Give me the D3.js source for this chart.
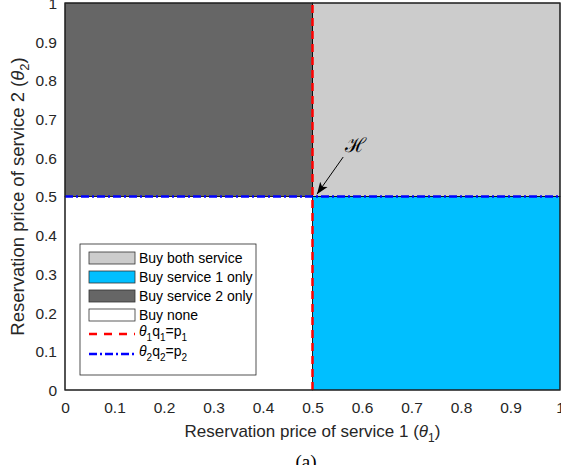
<!DOCTYPE html>
<html><head><meta charset="utf-8">
<script src="https://cdn.jsdelivr.net/npm/d3@7"></script>
<style>
body{margin:0;background:#fff;}
svg{display:block;font-family:Arial,"Liberation Sans",sans-serif;}
</style></head>
<body><svg id="c" width="561" height="465"></svg>
<script>
// ---- data ----
const threshold1 = 0.5;   // p1/q1
const threshold2 = 0.5;   // p2/q2
const regionNames = ["Buy both service","Buy service 1 only","Buy service 2 only","Buy none"];
const regionColors = ["#cccccc","#00bfff","#666666","#ffffff"];
const regionX0 = [0.5, 0.5, 0, 0];
const regionX1 = [1, 1, 0.5, 0.5];
const regionY0 = [0.5, 0, 0.5, 0];
const regionY1 = [1, 0.5, 1, 0.5];
const xTicks = [0,0.1,0.2,0.3,0.4,0.5,0.6,0.7,0.8,0.9,1];
const yTicks = [0,0.1,0.2,0.3,0.4,0.5,0.6,0.7,0.8,0.9,1];
const arrowFrom = [0.562, 0.602];
const arrowTo = [0.509, 0.506];
const labelPos = [0.586, 0.633];

const svg = d3.select("#c");
const L=65,R=560,T=3,B=390;
const x = d3.scaleLinear().domain([0,1]).range([L,R]);
const y = d3.scaleLinear().domain([0,1]).range([B,T]);
const FONT = "Arial,'Liberation Sans',sans-serif";

const defs = svg.append("defs");
defs.append("marker").attr("id","ah").attr("viewBox","0 0 12 10").attr("refX",12).attr("refY",5)
  .attr("markerWidth",12).attr("markerHeight",10).attr("markerUnits","userSpaceOnUse").attr("orient","auto")
  .append("path").attr("d","M0,0.5 L12,5 L0,9.5 L3,5 Z").attr("fill","#000");

// regions
svg.append("g").selectAll("rect").data(regionNames).join("rect")
  .attr("x",(d,i)=>x(regionX0[i])).attr("width",(d,i)=>x(regionX1[i])-x(regionX0[i]))
  .attr("y",(d,i)=>y(regionY1[i])).attr("height",(d,i)=>y(regionY0[i])-y(regionY1[i]))
  .attr("fill",(d,i)=>regionColors[i]).attr("stroke","#000").attr("stroke-width",0.8);

// threshold lines
svg.append("line").attr("x1",x(threshold1)).attr("x2",x(threshold1)).attr("y1",y(0)).attr("y2",y(1))
  .attr("stroke","#ff0000").attr("stroke-width",2.5).attr("stroke-dasharray","8,5");
svg.append("line").attr("x1",x(0)).attr("x2",x(1)).attr("y1",y(threshold2)).attr("y2",y(threshold2))
  .attr("stroke","#0000ff").attr("stroke-width",2.5).attr("stroke-dasharray","8,3,2,3");

// axes
const ax = svg.append("g").attr("transform",`translate(0,${B})`)
  .call(d3.axisBottom(x).tickValues(xTicks).tickFormat(d3.format("")).tickSize(0));
const ay = svg.append("g").attr("transform",`translate(${L},0)`)
  .call(d3.axisLeft(y).tickValues(yTicks).tickFormat(d3.format("")).tickSize(0));
[ax,ay].forEach(g=>{
  g.select(".domain").remove();
  g.selectAll(".tick line").remove();
  g.selectAll(".tick text").attr("fill","#262626").attr("font-size",15.5).attr("font-family",FONT);
});
ax.selectAll(".tick text").attr("dy","0").attr("y",23);
ay.selectAll(".tick text").attr("x",-8).attr("dy","0.35em");
// box
svg.append("rect").attr("x",L).attr("y",T).attr("width",R-L).attr("height",B-T)
  .attr("fill","none").attr("stroke","#262626").attr("stroke-width",1.2);

// axis labels
const xl = svg.append("text").attr("x",(L+R)/2).attr("y",437).attr("text-anchor","middle")
  .attr("font-size",17).attr("fill","#262626");
xl.append("tspan").text("Reservation price of service 1 (");
xl.append("tspan").attr("font-style","italic").text("θ");
xl.append("tspan").attr("font-size",12).attr("dy",5).text("1");
xl.append("tspan").attr("dy",-5).text(")");

const yl = svg.append("text").attr("transform",`translate(24,${(T+B)/2}) rotate(-90)`).attr("text-anchor","middle")
  .attr("font-size",18.5).attr("fill","#262626");
yl.append("tspan").text("Reservation price of service 2 (");
yl.append("tspan").attr("font-style","italic").text("θ");
yl.append("tspan").attr("font-size",13).attr("dy",5).text("2");
yl.append("tspan").attr("dy",-5).text(")");

svg.append("text").attr("x",306).attr("y",468).attr("text-anchor","middle")
  .attr("font-family","'Liberation Serif',serif").attr("font-size",19).attr("fill","#000").text("(a)");

// annotation
svg.append("line").attr("x1",x(arrowFrom[0])).attr("y1",y(arrowFrom[1])).attr("x2",x(arrowTo[0])).attr("y2",y(arrowTo[1]))
  .attr("stroke","#000").attr("stroke-width",1).attr("marker-end","url(#ah)");
svg.append("text").attr("x",x(labelPos[0])).attr("y",y(labelPos[1])).attr("text-anchor","middle").attr("dy","0.35em")
  .attr("font-family","'DejaVu Serif',serif").attr("font-size",20).text("ℋ");

// legend
const lg = svg.append("g");
lg.append("rect").attr("x",80).attr("y",244).attr("width",176).attr("height",131)
  .attr("fill","#fff").attr("stroke","#262626").attr("stroke-width",0.8);
const rowY = [258,277,296,315,334,354];
regionNames.forEach((n,i)=>{
  lg.append("rect").attr("x",89).attr("y",rowY[i]-6).attr("width",46).attr("height",12)
    .attr("fill",regionColors[i]).attr("stroke","#333").attr("stroke-width",0.8);
  lg.append("text").attr("x",139).attr("y",rowY[i]).attr("dy","0.35em").attr("font-size",14).attr("fill","#000").text(n);
});
lg.append("line").attr("x1",89).attr("x2",135).attr("y1",rowY[4]).attr("y2",rowY[4])
  .attr("stroke","#ff0000").attr("stroke-width",2.5).attr("stroke-dasharray","8,7");
lg.append("line").attr("x1",89).attr("x2",135).attr("y1",rowY[5]).attr("y2",rowY[5])
  .attr("stroke","#0000ff").attr("stroke-width",2.5).attr("stroke-dasharray","8,3,2,3");
function eqLabel(yy, k){
  const t = lg.append("text").attr("x",139).attr("y",yy).attr("dy","0.15em").attr("font-size",14).attr("fill","#000");
  t.append("tspan").attr("font-style","italic").text("θ");
  t.append("tspan").attr("font-size",10).attr("dy",5).text(k);
  t.append("tspan").attr("dy",-5).text("q");
  t.append("tspan").attr("font-size",10).attr("dy",5).text(k);
  t.append("tspan").attr("dy",-5).text("=p");
  t.append("tspan").attr("font-size",10).attr("dy",5).text(k);
}
eqLabel(rowY[4],"1");
eqLabel(rowY[5],"2");
</script></body></html>
